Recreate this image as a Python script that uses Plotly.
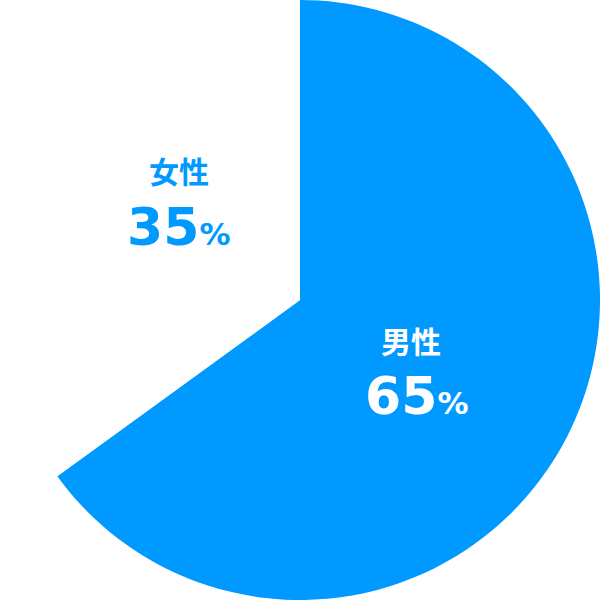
import plotly.graph_objects as go

labels = ["男性", "女性"]
values = [65, 35]
colors = ["#0099FF", "#FFFFFF"]
text_colors = ["#FFFFFF", "#0099FF"]

fig = go.Figure(go.Pie(
    labels=labels, values=values, sort=False, direction="clockwise", rotation=0,
    marker=dict(colors=colors, line=dict(width=0)),
    textinfo="none", hoverinfo="none", showlegend=False,
    domain=dict(x=[0, 1], y=[0, 1]),
))

W = H = 600
# text centers in pixels
label_px = [(411, 340), (179, 170)]
num_px = [(416, 396), (178, 227)]
anns = []
for lab, val, tc, lp, npx in zip(labels, values, text_colors, label_px, num_px):
    anns.append(dict(x=lp[0] / W, y=1 - lp[1] / H, xref="paper", yref="paper", showarrow=False,
                     xanchor="center", yanchor="middle",
                     text=f"<b>{lab}</b>",
                     font=dict(family="Noto Sans CJK JP", size=30, color=tc)))
    anns.append(dict(x=npx[0] / W, y=1 - npx[1] / H, xref="paper", yref="paper", showarrow=False,
                     xanchor="center", yanchor="middle",
                     text=f"<b>{val}</b><span style='font-size:31px'><b>%</b></span>",
                     font=dict(family="DejaVu Sans", size=52, color=tc)))

fig.update_layout(width=W, height=H, margin=dict(l=0, r=0, t=0, b=0),
                  paper_bgcolor="white", plot_bgcolor="white", annotations=anns)
fig.write_html("out.html", config={"displayModeBar": False},
               post_script="document.body.style.margin='0';document.body.style.overflow='hidden';")
